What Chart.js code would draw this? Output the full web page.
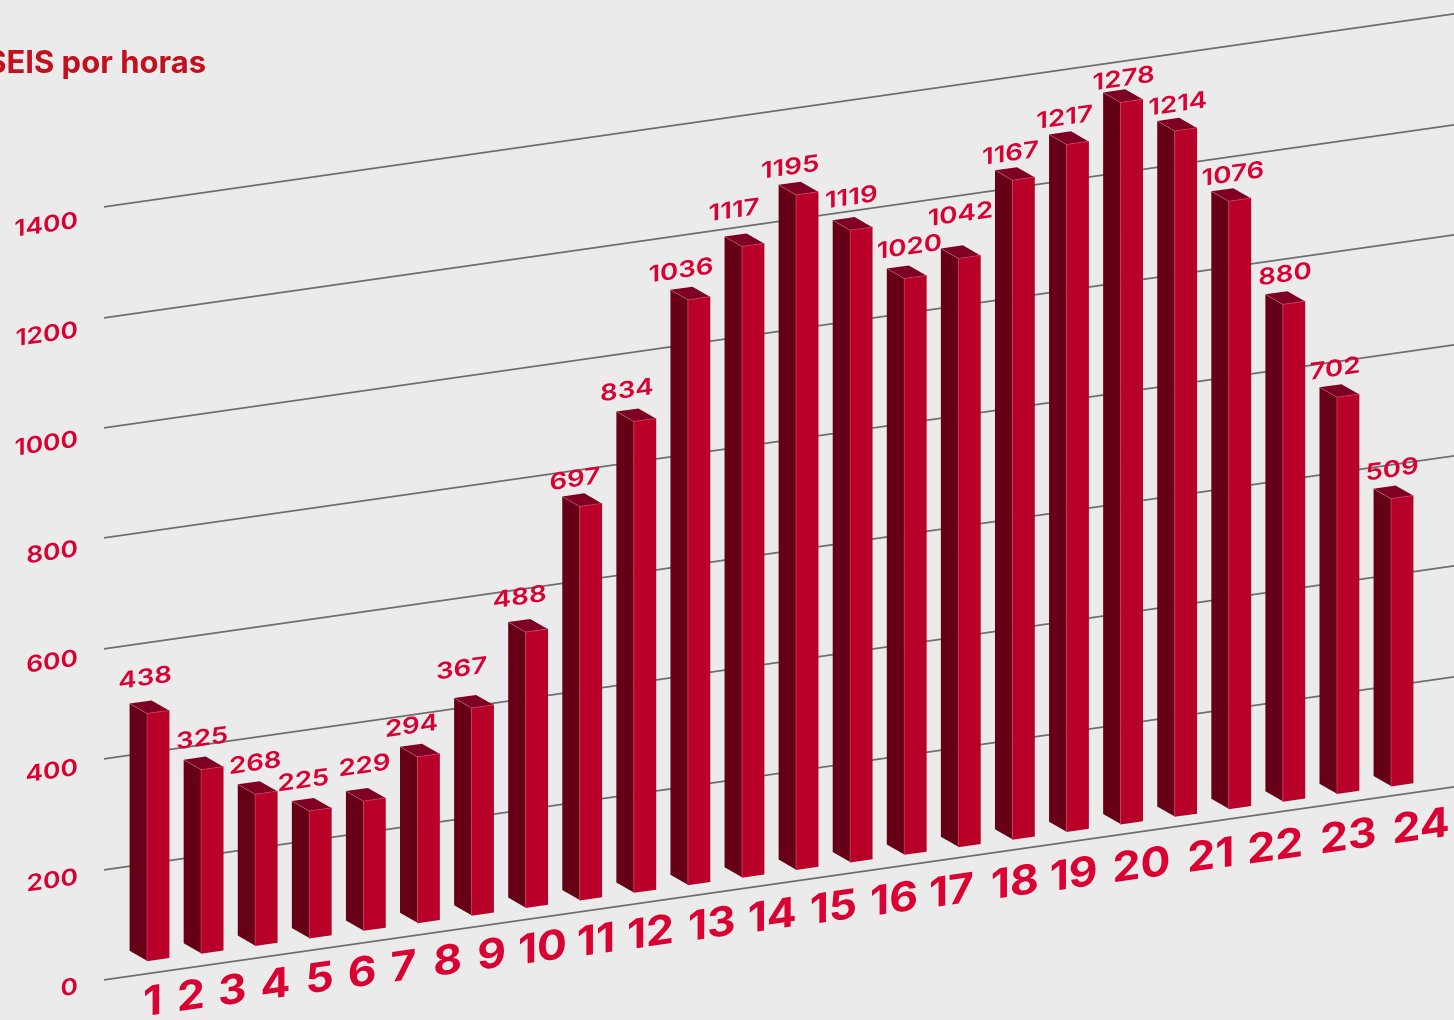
<!DOCTYPE html>
<html lang="es">
<head>
<meta charset="utf-8">
<title>SEIS por horas</title>
<script src="https://cdn.jsdelivr.net/npm/chart.js@4"></script>
<style>
  html, body { margin: 0; padding: 0; background: #ebebeb; overflow: hidden; }
  canvas { display: block; }
</style>
</head>
<body>
<canvas id="chart" width="1454" height="1020"></canvas>
<script>
const hours = [1, 2, 3, 4, 5, 6, 7, 8, 9, 10, 11, 12, 13, 14, 15, 16, 17, 18, 19, 20, 21, 22, 23, 24];
const values = [438, 325, 268, 225, 229, 294, 367, 488, 697, 834, 1036, 1117, 1195, 1119, 1020, 1042, 1167, 1217, 1278, 1214, 1076, 880, 702, 509];
const yTicks = [0, 200, 400, 600, 800, 1000, 1200, 1400];
const titleText = 'SEIS por horas';

// the value labels do not sit evenly above the bars in the original
const labelDx = [-13, -10, -11, -17, -10, -17, -21, -17, -16, -18, -18, -19, -17, -10, -6, -9, -13, -13, -8, -8, -7, -9, -13, -10];
const labelDy = [23, 18, 18, 18, 22, 18, 27, 22, 14, 18, 16, 23, 14, 18, 16, 29, 12, 12, 8, 11, 11, 14, 13, 13];
// same for the hour labels, digit widths differ from the original font
const hourDx = [-1, 0, -1, -1, 0, 0, 0, 3, 4, 2, -2, -4, -4, -6, -7, -8, -11, -8, -11, -10, -7, -8, -5, -3];

const SLOPE = 0.143;
const BAR_SHEAR = 0.0025; // bar row is a touch flatter than the gridlines
const DEPTH_X = 17.5;
const DEPTH_Y = 12.5;
const FRONT = '#b80028';
const SIDE = '#660016';
const TOP = '#7e0022';
const EDGE = 'rgba(224, 130, 150, 0.55)';
const TEXT_RED = '#d90032';

function stretchedText(ctx, str, x, y, font, stretch, align) {
  ctx.save();
  ctx.font = font;
  ctx.fillStyle = TEXT_RED;
  ctx.textBaseline = 'middle';
  ctx.textAlign = align;
  ctx.translate(x, y);
  ctx.scale(stretch, 1);
  ctx.fillText(str, 0, 0);
  ctx.restore();
}

function poly(ctx, pts, fill) {
  ctx.beginPath();
  pts.forEach((p, i) => i ? ctx.lineTo(p[0], p[1]) : ctx.moveTo(p[0], p[1]));
  ctx.closePath();
  ctx.fillStyle = fill;
  ctx.fill();
}

const skew3d = {
  id: 'skew3d',
  beforeDraw(chart) {
    chart.ctx.save();
    chart.ctx.transform(1, -SLOPE, 0, 1, 0, SLOPE * chart.chartArea.left);
  },
  beforeDatasetsDraw(chart) {
    const ctx = chart.ctx;
    ctx.save();
    ctx.transform(1, BAR_SHEAR, 0, 1, 0, -BAR_SHEAR * 147);
    chart.getDatasetMeta(0).data.forEach(bar => {
      const l = bar.x - 11, r = bar.x + 11;
      poly(ctx, [[l, bar.y], [l, bar.base], [l - DEPTH_X, bar.base - DEPTH_Y], [l - DEPTH_X, bar.y - DEPTH_Y]], SIDE);
      poly(ctx, [[l, bar.y], [r, bar.y], [r - DEPTH_X, bar.y - DEPTH_Y], [l - DEPTH_X, bar.y - DEPTH_Y]], TOP);
    });
  },
  afterDatasetsDraw(chart) {
    const ctx = chart.ctx;
    ctx.strokeStyle = EDGE;
    ctx.lineWidth = 0.7;
    chart.getDatasetMeta(0).data.forEach(bar => {
      const l = bar.x - 11, r = bar.x + 11;
      ctx.beginPath();
      ctx.moveTo(l - DEPTH_X, bar.y - DEPTH_Y);
      ctx.lineTo(l, bar.y);
      ctx.lineTo(r, bar.y);
      ctx.moveTo(l, bar.y);
      ctx.lineTo(l, bar.base);
      ctx.stroke();
    });
    ctx.restore();
  },
  afterDraw(chart) {
    const ctx = chart.ctx;
    const labelScale = chart.scales.yLabels;

    yTicks.forEach(t => {
      stretchedText(ctx, String(t), 78, labelScale.getPixelForValue(t) + 3, '600 23px Inter', 1.15, 'right');
    });

    chart.getDatasetMeta(0).data.forEach((bar, i) => {
      stretchedText(ctx, String(values[i]), bar.x + labelDx[i], bar.y - DEPTH_Y - labelDy[i], '600 23px Inter', 1.2, 'center');
    });

    // hour labels were one line of text, so they drift away from the bars
    const font = '700 41px Inter';
    const stretch = 1.08;
    const gap = 14;
    ctx.font = font;
    let x = 144;
    hours.forEach((h, i) => {
      const w = ctx.measureText(String(h)).width * stretch;
      stretchedText(ctx, String(h), x + hourDx[i], 1009.5 + (x - 144) * 0.005, font, stretch, 'left');
      x += w + gap;
    });

    ctx.restore();

    ctx.font = '700 31px Inter';
    ctx.fillStyle = '#c4101d';
    ctx.textAlign = 'right';
    ctx.textBaseline = 'alphabetic';
    ctx.fillText(titleText, 206, 73);
  }
};

new Chart(document.getElementById('chart'), {
  type: 'bar',
  data: {
    datasets: [{
      data: hours.map((h, i) => ({ x: h, y: values[i] })),
      yAxisID: 'bars',
      backgroundColor: FRONT,
      barThickness: 22,
      borderWidth: 0
    }]
  },
  options: {
    responsive: false,
    animation: false,
    devicePixelRatio: 1,
    layout: { padding: { left: 104, top: 207, right: 0, bottom: 40 } },
    plugins: { legend: { display: false }, tooltip: { enabled: false }, title: { display: false } },
    scales: {
      x: { type: 'linear', display: false, offset: false, min: 0, max: 24.96 },
      y: {
        min: 0,
        max: 1400,
        position: 'left',
        border: { display: false },
        grid: { color: '#6e6e6e', lineWidth: 1.8, drawTicks: false },
        ticks: { display: false, stepSize: 200 }
      },
      // printed tick labels sit a little closer together than the gridlines
      yLabels: { display: false, min: 0, max: 1413 },
      // bars run on a slightly taller scale than the printed gridlines
      bars: { display: false, min: -23, max: 1346 }
    }
  },
  plugins: [skew3d]
});
</script>
</body>
</html>
